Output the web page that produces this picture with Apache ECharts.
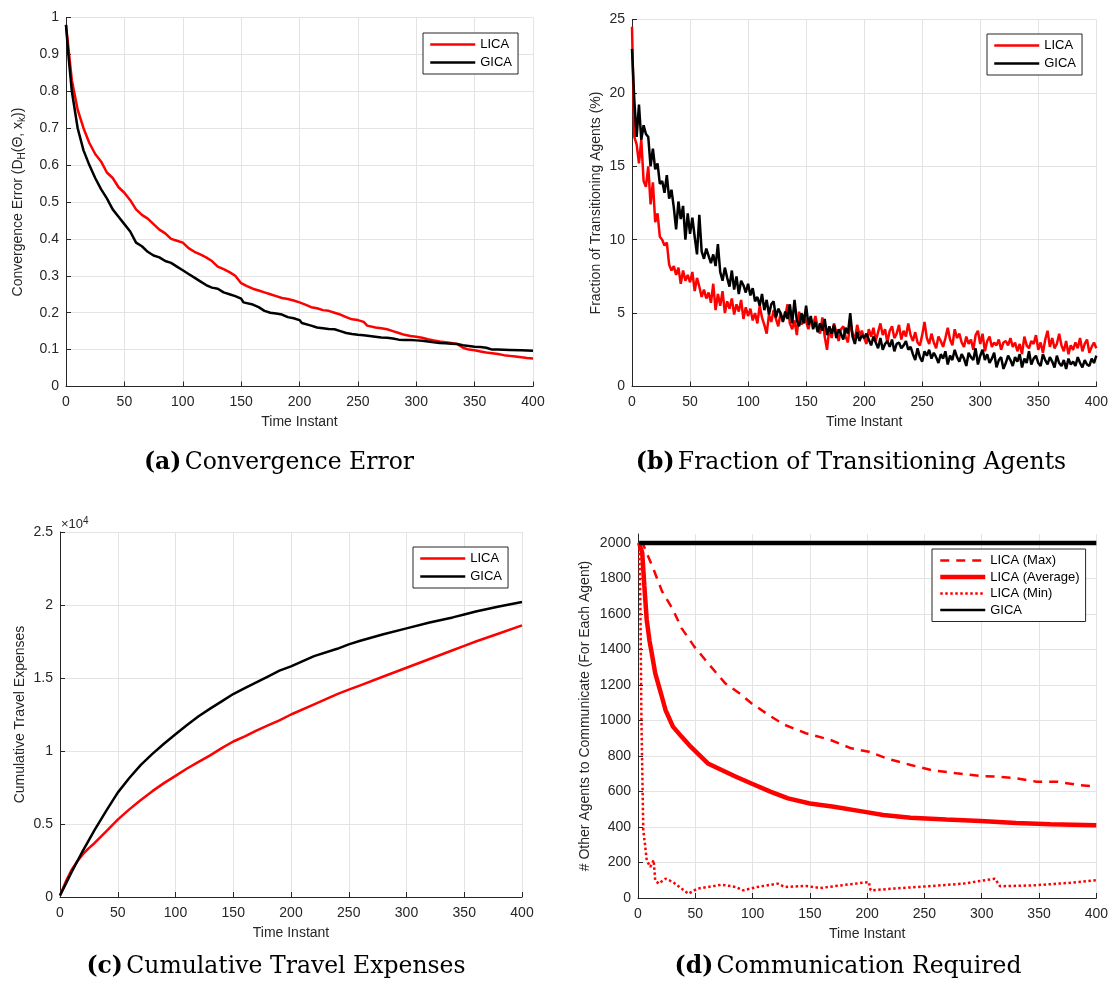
<!DOCTYPE html>
<html>
<head>
<meta charset="utf-8">
<script src="https://cdn.jsdelivr.net/npm/echarts@6/dist/echarts.min.js"></script>
<style>
  html, body { margin: 0; padding: 0; background: #fff; }
  #chart { width: 1111px; height: 988px; }
</style>
</head>
<body>
<div id="chart"></div>
<script>
// ---------- (a) Convergence error ----------
const tA_lica = [0,2,5,10,15,20,25,30,35,40,45,50,55,60,65,70,75,80,85,90,95,100,105,110,115,120,125,130,135,140,145,150,155,160,165,170,175,180,185,190,195,200,205,210,215,220,225,230,235,240,245,250,255,258,265,270,275,280,285,290,295,300,305,310,315,320,325,330,335,340,345,350,355,360,365,370,375,380,385,390,395,400];
const errLica = [0.98,0.92,0.83,0.75,0.70,0.66,0.63,0.61,0.58,0.565,0.54,0.525,0.505,0.48,0.465,0.455,0.44,0.425,0.415,0.40,0.395,0.39,0.375,0.365,0.358,0.35,0.34,0.325,0.318,0.31,0.30,0.28,0.272,0.265,0.26,0.255,0.25,0.245,0.24,0.237,0.233,0.228,0.222,0.215,0.212,0.207,0.205,0.20,0.195,0.188,0.182,0.18,0.175,0.165,0.16,0.158,0.155,0.15,0.145,0.14,0.137,0.135,0.132,0.128,0.125,0.122,0.12,0.118,0.115,0.105,0.10,0.098,0.095,0.092,0.09,0.088,0.085,0.083,0.081,0.079,0.077,0.076];
const tA_gica = [0,2,5,10,15,20,25,30,35,40,45,50,55,60,65,70,75,80,85,90,95,100,105,110,115,120,125,130,135,140,145,150,152,160,165,170,175,180,185,190,195,200,202,210,215,220,225,230,235,240,245,250,255,260,265,270,275,280,285,290,295,300,305,310,315,320,325,330,335,340,345,350,355,360,365,370,380,390,400];
const errGica = [0.98,0.90,0.80,0.70,0.64,0.60,0.565,0.535,0.51,0.48,0.46,0.44,0.42,0.39,0.38,0.365,0.355,0.35,0.34,0.335,0.325,0.315,0.305,0.295,0.285,0.275,0.268,0.265,0.255,0.25,0.245,0.238,0.228,0.222,0.215,0.205,0.20,0.198,0.195,0.188,0.185,0.18,0.172,0.165,0.16,0.158,0.156,0.155,0.15,0.145,0.142,0.14,0.139,0.137,0.135,0.133,0.132,0.13,0.127,0.126,0.126,0.125,0.124,0.122,0.12,0.118,0.117,0.116,0.115,0.112,0.11,0.108,0.107,0.105,0.10,0.10,0.099,0.098,0.097];

// ---------- (b) Fraction of transitioning agents (%), one sample every 2 instants ----------
const tB = Array.from({ length: 201 }, (_, i) => i * 2);
const fracLica = [
  24.5, 17.0, 16.5, 15.2, 16.8, 14.0, 13.6, 15.0, 12.4, 13.9, 11.2,
  11.8, 10.2, 10.0, 9.6, 9.8, 8.3, 7.9, 8.2, 7.6, 8.1,
  7.0, 7.9, 7.2, 7.6, 7.1, 7.8, 6.5, 7.4, 6.8, 6.1,
  6.6, 6.0, 6.4, 5.7, 7.0, 5.2, 6.3, 5.5, 6.5, 5.0,
  5.8, 5.3, 6.0, 4.9, 5.6, 5.1, 5.9, 4.6, 5.4, 4.8,
  5.3, 4.5, 5.0, 4.3, 5.5, 4.7, 4.2, 3.6, 4.9, 4.4,
  5.2, 4.6, 4.1, 5.0, 4.5, 4.8, 5.6, 4.3, 3.9, 4.5,
  3.5, 5.1, 4.2, 4.9, 4.4, 3.9, 4.6, 4.2, 4.8, 4.0,
  3.6, 4.7, 3.4, 2.5, 4.0, 3.3, 4.3, 3.7, 3.1, 3.9,
  4.1, 3.4, 3.0, 4.4, 3.6, 3.2, 4.2, 3.5, 3.8, 3.3,
  2.9, 3.9, 3.4, 4.0, 3.1, 3.7, 4.3, 3.5, 3.9, 3.0,
  3.8, 4.1, 3.3, 3.6, 4.2, 3.2, 3.8, 3.4, 4.3, 3.5,
  3.1, 3.7, 3.0, 2.8, 3.5, 4.4, 3.3, 2.9, 3.6, 3.0,
  2.6, 3.4, 3.1, 2.7, 3.3, 4.0, 3.2, 2.8, 3.9, 3.3,
  3.6, 3.0, 2.7, 3.4, 2.9, 3.2, 2.5, 3.5, 3.8, 2.9,
  3.6, 2.4, 3.1, 3.4, 2.7, 3.0, 2.8, 3.2, 2.5, 3.0,
  3.1, 2.8, 3.3, 2.7, 3.0, 2.4, 2.9, 2.2, 3.4, 2.8,
  2.6, 3.1, 2.9, 3.5, 2.5, 3.0, 2.3, 3.2, 3.8, 2.7,
  3.3, 2.6, 2.9, 3.6, 2.8, 2.4, 3.1, 2.2, 2.8, 2.5,
  3.0, 2.6, 3.3, 2.4, 2.9, 3.2, 2.3, 2.7, 3.0, 2.6
];
const fracGica = [
  23.0, 19.5, 17.0, 19.2, 16.8, 17.8, 17.2, 17.0, 15.0, 16.2, 14.8,
  15.2, 13.8, 14.0, 13.2, 14.4, 12.8, 13.4, 12.2, 10.7, 12.6,
  11.4, 12.3, 10.0, 11.8, 10.4, 11.5, 10.2, 9.0, 11.7, 9.2,
  8.7, 9.4, 8.9, 8.4, 9.0, 8.2, 9.7, 7.8, 7.2, 8.1,
  7.4, 6.8, 7.9, 6.6, 7.5, 6.3, 7.2, 6.9, 6.4, 7.0,
  6.2, 6.7, 5.8, 6.1, 5.5, 6.3, 5.2, 5.9, 4.9, 5.6,
  5.8, 4.7, 5.3, 5.0, 4.4, 5.1, 4.6, 5.6, 4.3, 5.9,
  4.5, 4.1, 5.0, 4.3, 5.5, 4.2, 4.8, 3.9, 4.4, 3.7,
  4.3, 3.8, 4.6, 3.5, 4.1, 3.6, 4.2, 3.3, 3.9, 3.6,
  3.2, 4.0, 3.6, 5.0, 3.4, 2.9, 3.7, 3.1, 3.5, 3.3,
  3.6, 3.2, 2.8, 3.4, 3.0, 2.6, 3.3, 2.5, 2.9, 3.1,
  2.7, 3.2, 2.4, 2.9, 3.0, 2.6, 2.8, 3.1, 2.5, 2.7,
  2.2, 1.8, 2.6, 2.0, 1.7, 2.4, 2.1, 2.5, 1.9, 2.3,
  2.0, 1.6, 2.2, 1.9, 2.4, 1.5, 2.1, 1.8, 2.5, 2.0,
  1.7, 2.2, 1.9, 1.4, 2.3, 2.0, 1.8, 2.6, 1.5, 2.1,
  2.5, 1.8, 2.2, 1.6, 1.9, 2.3, 1.3, 1.8, 2.0, 1.2,
  1.6, 2.1, 1.8, 1.4, 2.0, 1.7, 2.2, 1.3, 1.9, 1.6,
  2.4, 1.5, 1.9, 2.1, 1.6, 1.4, 2.2, 1.8, 1.5, 2.0,
  1.7, 1.3, 2.1, 1.6, 1.4, 1.8, 1.2, 1.9, 1.5, 1.7,
  1.4, 2.0, 1.6, 1.3, 1.8, 1.5, 1.4, 1.9, 1.6, 2.1
];

// ---------- (c) Cumulative travel expenses ----------
const tC = [0,5,10,15,20,25,30,40,50,60,70,80,90,100,110,120,130,140,150,160,170,180,190,200,220,240,250,260,280,300,320,340,350,360,380,400];
const costLica = [100,1050,1850,2450,2950,3350,3700,4500,5300,6000,6650,7250,7800,8300,8800,9250,9700,10200,10650,11000,11400,11750,12100,12500,13200,13900,14200,14500,15100,15700,16300,16900,17200,17500,18050,18600];
const costGica = [100,900,1700,2450,3200,3900,4600,5900,7150,8150,9050,9800,10500,11150,11780,12380,12900,13400,13900,14300,14700,15100,15500,15800,16500,17000,17300,17550,18000,18400,18800,19150,19350,19550,19900,20200];

// ---------- (d) Communication required ----------
const tD_max = [1,4.6,13.7,21,30.5,38,49,61,76,88.5,99,116,128,146.5,168,186,201.5,217,238,256.5,278,299,314.5,330,348,366,385,400];
const commMax = [2000,1990,1849,1727,1624,1520,1417,1323,1210,1153,1097,1022,975,928,890,843,824,786,749,720,702,687,683,674,655,655,636,627];
const tD_avg = [1,2,3.7,5.5,7.6,10,12,15,20,24,30.5,38,46,52,61,73,85.5,99,116,131,150,171,198,214,238,269,299,330,360,400];
const commAvg = [2000,1995,1943,1760,1567,1450,1379,1266,1153,1059,965,909,852,815,758,721,683,645,598,561,532,514,485,467,452,442,433,423,416,410];
const tD_min = [1,2,3,4.6,6,7.6,10.7,13.7,15,18,24,30.5,38,44,52,61,73,85.5,91.6,104,122,128,146.5,159,177,201.5,203,223,253,284,311.5,316,345,375.5,400];
const commMin = [2000,1700,1000,382,307,213,175,213,100,81,109,90,53,24,53,62,75,62,43,62,81,62,68,56,71,90,43,53,66,81,109,66,71,85,100];
const tD_gica = [1,400];
const commGica = [2000,2000];

// ---------- tick labels ----------
const timeTicks = ['0','50','100','150','200','250','300','350','400'];
const costTickLabels = ['0','0.5','1','1.5','2','2.5'];

const pairs = (xs, ys) => xs.map((x, i) => [x, ys[i]]);

const RED = '#ff0000';
const BLACK = '#000000';
const AXIS = '#262626';
const GRID = '#e3e3e3';
const FONT = 'Liberation Sans, Arial, Helvetica, sans-serif';

function xAxisFor(gridIndex) {
  return {
    type: 'value', gridIndex, min: 0, max: 400, interval: 50,
    name: 'Time Instant', nameLocation: 'middle', nameGap: 29,
    nameTextStyle: { fontFamily: FONT, fontSize: 14, color: AXIS },
    axisLine: { show: true, onZero: false, lineStyle: { color: AXIS, width: 1 } },
    axisTick: { show: true, inside: true, length: 5, lineStyle: { color: AXIS } },
    axisLabel: { fontFamily: FONT, fontSize: 14, color: AXIS, margin: 9,
      formatter: v => timeTicks[Math.round(v / 50)] },
    splitLine: { show: true, lineStyle: { color: GRID, width: 1 } }
  };
}
function yAxisFor(gridIndex, extra) {
  return Object.assign({
    type: 'value', gridIndex, min: 0,
    nameLocation: 'middle',
    nameTextStyle: { fontFamily: FONT, fontSize: 14, color: AXIS },
    axisLine: { show: true, onZero: false, lineStyle: { color: AXIS, width: 1 } },
    axisTick: { show: true, inside: true, length: 5, lineStyle: { color: AXIS } },
    axisLabel: { fontFamily: FONT, fontSize: 14, color: AXIS, margin: 7, formatter: v => String(v) },
    splitLine: { show: true, lineStyle: { color: GRID, width: 1 } }
  }, extra);
}
function legendFor(left, top, names, gap) {
  return {
    left, top, orient: 'vertical', data: names,
    itemWidth: 45, itemHeight: 12, itemGap: gap,
    padding: [5, 6, 5, 6],
    backgroundColor: '#ffffff', borderColor: AXIS, borderWidth: 1, borderRadius: 0,
    itemStyle: { opacity: 0 },
    lineStyle: { width: 'inherit', type: 'inherit', cap: 'butt' },
    textStyle: { fontFamily: FONT, fontSize: 13, color: '#000' },
    selectedMode: false
  };
}
function line(name, xi, data, color, width, type) {
  return {
    name, type: 'line', xAxisIndex: xi, yAxisIndex: xi, data,
    showSymbol: false, symbol: 'none', smooth: false, animation: false,
    lineStyle: { color, width, type: type || 'solid', cap: 'butt' },
    itemStyle: { color }
  };
}

const chart = echarts.init(document.getElementById('chart'), null, { renderer: 'canvas' });

const serif = 'DejaVu Serif, Liberation Serif, serif';
function caption(letter, text, cx, cy) {
  return {
    type: 'text', x: cx, y: cy,
    style: {
      text: '{b|(' + letter + ')} {r|' + text + '}',
      align: 'center', verticalAlign: 'middle',
      rich: {
        b: { fontFamily: serif, fontSize: 23.5, fontWeight: 'bold', fill: '#000' },
        r: { fontFamily: serif, fontSize: 23.5, fill: '#000' }
      }
    }
  };
}

chart.setOption({
  backgroundColor: '#ffffff',
  animation: false,
  grid: [
    { left: 66, top: 17.5, width: 467, height: 369 },
    { left: 632, top: 19.5, width: 467, height: 367 },
    { left: 60, top: 532, width: 462, height: 365 },
    { left: 638, top: 534, width: 460, height: 364 }
  ],
  xAxis: [xAxisFor(0), xAxisFor(1), xAxisFor(2), xAxisFor(3)],
  yAxis: [
    yAxisFor(0, { max: 1, interval: 0.1, nameGap: 39,
      name: '{m|Convergence Error (D}{s|H}{m|(Θ, x}{s|k}{m|))}',
      nameTextStyle: { fontFamily: FONT, fontSize: 14, color: AXIS,
        rich: {
          m: { fontFamily: FONT, fontSize: 14, color: AXIS, lineHeight: 18 },
          s: { fontFamily: FONT, fontSize: 10, color: AXIS, lineHeight: 10, verticalAlign: 'bottom' }
        } },
      axisLabel: { fontFamily: FONT, fontSize: 14, color: AXIS, margin: 7,
        formatter: v => (Math.round(v * 10) / 10).toString() } }),
    yAxisFor(1, { max: 25, interval: 5, nameGap: 29, name: 'Fraction of Transitioning Agents (%)' }),
    yAxisFor(2, { max: 25000, interval: 5000, nameGap: 33, name: 'Cumulative Travel Expenses',
      axisLabel: { fontFamily: FONT, fontSize: 14, color: AXIS, margin: 7,
        formatter: v => costTickLabels[Math.round(v / 5000)] } }),
    yAxisFor(3, { max: 2050, interval: 200, nameGap: 46, name: '# Other Agents to Communicate (For Each Agent)',
      axisLabel: { fontFamily: FONT, fontSize: 14, color: AXIS, margin: 7, showMaxLabel: false,
        formatter: v => String(v) },
      splitLine: { show: true, showMaxLine: false, lineStyle: { color: GRID, width: 1 } } })
  ],
  legend: [
    legendFor(423, 33, ['LICA', 'GICA'], 5),
    legendFor(987, 34, ['LICA', 'GICA'], 5),
    legendFor(413, 547, ['LICA', 'GICA'], 5),
    legendFor(932, 549, ['LICA (Max)', 'LICA (Average)', 'LICA (Min)', 'GICA'], 3.5)
  ],
  series: [
    line('LICA', 0, pairs(tA_lica, errLica), RED, 2.5),
    line('GICA', 0, pairs(tA_gica, errGica), BLACK, 2.5),
    line('LICA', 1, pairs(tB, fracLica), RED, 2.5),
    line('GICA', 1, pairs(tB, fracGica), BLACK, 2.5),
    line('LICA', 2, pairs(tC, costLica), RED, 2.5),
    line('GICA', 2, pairs(tC, costGica), BLACK, 2.5),
    line('LICA (Max)', 3, pairs(tD_max, commMax), RED, 2.5, [9, 7]),
    line('LICA (Average)', 3, pairs(tD_avg, commAvg), RED, 4.5),
    line('LICA (Min)', 3, pairs(tD_min, commMin), RED, 2.5, [2.5, 2.5]),
    line('GICA', 3, pairs(tD_gica, commGica), BLACK, 4.5)
  ],
  graphic: [
    {
      type: 'text', x: 61, y: 524,
      style: {
        text: '{m|×10}{s|4}', align: 'left', verticalAlign: 'middle',
        rich: {
          m: { fontFamily: FONT, fontSize: 13, fill: AXIS, lineHeight: 16 },
          s: { fontFamily: FONT, fontSize: 10, fill: AXIS, lineHeight: 10, verticalAlign: 'top' }
        }
      }
    },
    caption('a', 'Convergence Error', 279, 463),
    caption('b', 'Fraction of Transitioning Agents', 851, 463),
    caption('c', 'Cumulative Travel Expenses', 276, 967),
    caption('d', 'Communication Required', 848, 967)
  ]
});
</script>
</body>
</html>
